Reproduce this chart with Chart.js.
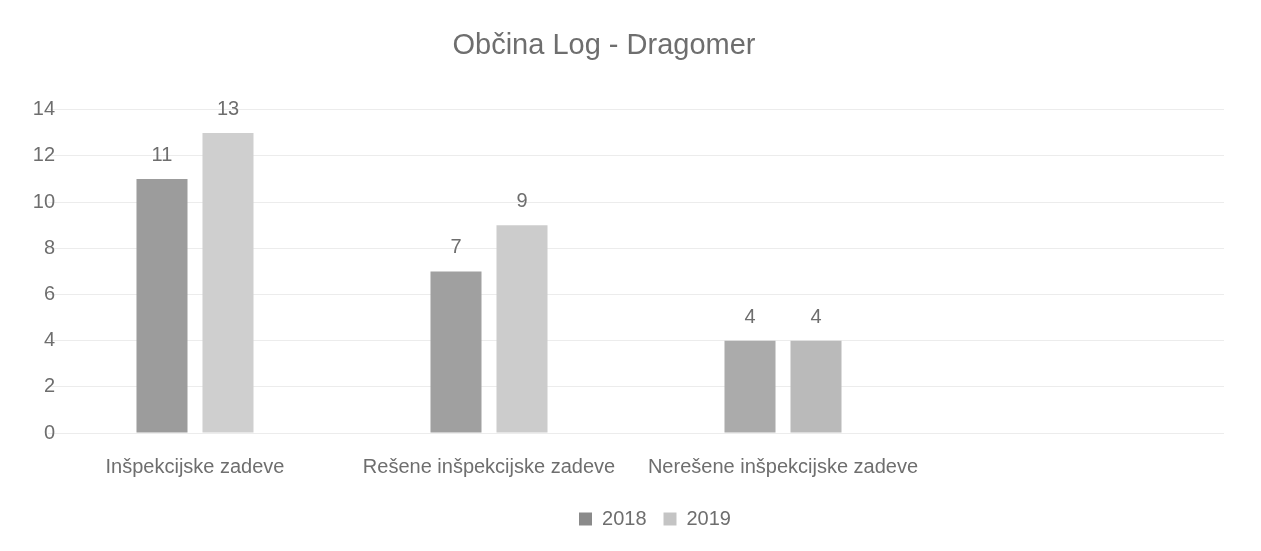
<!DOCTYPE html>
<html>
<head>
<meta charset="utf-8">
<script src="https://cdn.jsdelivr.net/npm/chart.js@4.4.1/dist/chart.umd.min.js"></script>
<style>
  html, body { margin: 0; padding: 0; background: #fff; }
  #wrap { width: 1261px; height: 551px; }
</style>
</head>
<body>
<div id="wrap"><canvas id="chart" width="1261" height="551"></canvas></div>
<script>
const categories = ["Inšpekcijske zadeve", "Rešene inšpekcijske zadeve", "Nerešene inšpekcijske zadeve", ""];
const values2018 = [11, 7, 4, null];
const values2019 = [13, 9, 4, null];
const yTicks = [0, 2, 4, 6, 8, 10, 12, 14];

const fontFamily = "'Liberation Sans', Arial, sans-serif";
const textColor = "#6e6e6e";

// stevilke nad stolpci
const valueLabels = {
  id: "valueLabels",
  afterDatasetsDraw(chart) {
    const c = chart.ctx;
    c.save();
    c.font = "20px " + fontFamily;
    c.fillStyle = textColor;
    c.textAlign = "center";
    c.textBaseline = "alphabetic";
    chart.data.datasets.forEach((ds, i) => {
      chart.getDatasetMeta(i).data.forEach((bar, j) => {
        if (ds.data[j] == null) return;
        c.fillText(ds.data[j], bar.x, bar.y - 18);
      });
    });
    c.restore();
  },
};

// legenda je v originalu malo bolj desno, oznake y osi segajo cez rob
const nudge = {
  id: "nudge",
  afterLayout(chart) {
    chart.legend.left += 43;
    chart.legend.right += 43;
    chart.titleBlock.left -= 8;
    chart.titleBlock.right -= 8;
    chart.scales.y.right += 10;
  },
};

new Chart(document.getElementById("chart"), {
  type: "bar",
  data: {
    labels: categories,
    datasets: [
      {
        label: "2018",
        data: values2018,
        backgroundColor: ["#9c9c9c", "#a0a0a0", "#ababab", "#a0a0a0"],
        borderWidth: 0,
      },
      {
        label: "2019",
        data: values2019,
        backgroundColor: ["#cfcfcf", "#cccccc", "#bababa", "#cccccc"],
        borderWidth: 0,
      },
    ],
  },
  options: {
    responsive: false,
    animation: false,
    barPercentage: 0.773,
    categoryPercentage: 0.449,
    layout: { padding: { top: 0, left: 0, right: 37, bottom: 12 } },
    plugins: {
      title: {
        display: true,
        text: "Občina Log - Dragomer",
        color: textColor,
        font: { family: fontFamily, size: 29, weight: "normal" },
        padding: { top: 29, bottom: 46 },
      },
      legend: {
        position: "bottom",
        labels: {
          color: textColor,
          font: { family: fontFamily, size: 20 },
          boxWidth: 13,
          boxHeight: 13,
          padding: 17,
          generateLabels: () => [
            { text: "2018", fillStyle: "#8a8a8a", strokeStyle: "#8a8a8a", lineWidth: 0, fontColor: textColor },
            { text: "2019", fillStyle: "#c4c4c4", strokeStyle: "#c4c4c4", lineWidth: 0, fontColor: textColor },
          ],
        },
      },
      tooltip: { enabled: false },
    },
    scales: {
      x: {
        grid: { display: false },
        border: { display: false },
        ticks: {
          color: textColor,
          font: { family: fontFamily, size: 20 },
          padding: 14,
          maxRotation: 0,
          autoSkip: false,
        },
        afterFit(axis) { axis.height = 59; },
      },
      y: {
        min: 0,
        max: 14,
        grid: { color: "#ececec", drawTicks: false },
        border: { display: false },
        afterBuildTicks(axis) { axis.ticks = yTicks.map((v) => ({ value: v })); },
        ticks: {
          color: textColor,
          font: { family: fontFamily, size: 20 },
          padding: 3,
        },
        afterFit(axis) { axis.width = 48; },
      },
    },
  },
  plugins: [valueLabels, nudge],
});
</script>
</body>
</html>
